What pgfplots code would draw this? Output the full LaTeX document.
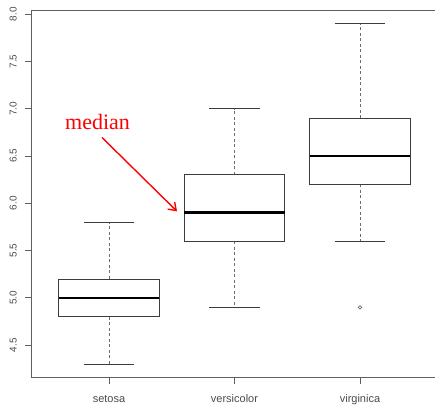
\documentclass[border=0pt]{standalone}
\usepackage{pgfplots}
\pgfplotsset{compat=1.18}
\usepgfplotslibrary{statistics}
\usetikzlibrary{arrows.meta}
\usepackage{fontspec}
\setmainfont{Liberation Sans}
\newfontfamily\serifrm{Liberation Serif}
\definecolor{axgray}{RGB}{95,95,95}
\definecolor{txtgray}{RGB}{75,75,75}
\definecolor{boxgray}{RGB}{60,60,60}
\definecolor{whgray}{RGB}{110,110,110}
\begin{document}
\begin{tikzpicture}
\begin{axis}[
  name=ax,
  scale only axis,
  width=406.6bp, height=367.7bp,
  xmin=0.38, xmax=3.62, ymin=4.156, ymax=8.044,
  axis line style={axgray, line width=0.9bp},
  xtick={1,2,3}, xticklabels={setosa,versicolor,virginica},
  ytick={4.5,5,5.5,6,6.5,7,7.5,8},
  yticklabels={4.5,5.0,5.5,6.0,6.5,7.0,7.5,8.0},
  tick align=outside, xtick pos=bottom, ytick pos=left,
  major tick length=6.5bp,
  tick style={axgray, line width=0.9bp},
  ticklabel style={text=txtgray},
  yticklabel style={xshift=-7.7bp, font=\fontsize{10bp}{12bp}\selectfont, rotate=90, anchor=south, inner sep=0pt},
  xticklabel style={font=\fontsize{11bp}{13bp}\selectfont, anchor=base, inner sep=0pt, yshift=-18bp},
  boxplot/draw direction=y,
  boxplot/draw/median/.code={%
    \draw[black, line width=2.6bp]
      (boxplot box cs:\pgfplotsboxplotvalue{median},0) --
      (boxplot box cs:\pgfplotsboxplotvalue{median},1);},
  boxplot/draw/lower whisker/.code={%
    \draw[whgray, dash pattern=on 3bp off 2.5bp]
      (boxplot box cs:\pgfplotsboxplotvalue{lower quartile},0.5) --
      (boxplot box cs:\pgfplotsboxplotvalue{lower whisker},0.5);
    \draw[boxgray]
      (boxplot whisker cs:\pgfplotsboxplotvalue{lower whisker},0) --
      (boxplot whisker cs:\pgfplotsboxplotvalue{lower whisker},1);},
  boxplot/draw/upper whisker/.code={%
    \draw[whgray, dash pattern=on 3bp off 2.5bp]
      (boxplot box cs:\pgfplotsboxplotvalue{upper quartile},0.5) --
      (boxplot box cs:\pgfplotsboxplotvalue{upper whisker},0.5);
    \draw[boxgray]
      (boxplot whisker cs:\pgfplotsboxplotvalue{upper whisker},0) --
      (boxplot whisker cs:\pgfplotsboxplotvalue{upper whisker},1);},
]
\addplot[boxgray, line width=0.9bp, mark=o, mark size=1.7bp,
  boxplot prepared={draw position=1, lower whisker=4.3, lower quartile=4.8,
    median=5.0, upper quartile=5.2, upper whisker=5.8,
    box extend=0.8, whisker extend=0.4}] coordinates {};
\addplot[boxgray, line width=0.9bp, mark=o, mark size=1.7bp,
  boxplot prepared={draw position=2, lower whisker=4.9, lower quartile=5.6,
    median=5.9, upper quartile=6.3, upper whisker=7.0,
    box extend=0.8, whisker extend=0.4}] coordinates {};
\addplot[boxgray, line width=0.9bp, mark=o, mark size=1.8bp,
  mark options={line width=0.7bp, draw=whgray},
  boxplot prepared={draw position=3, lower whisker=5.6, lower quartile=6.2,
    median=6.5, upper quartile=6.9, upper whisker=7.9,
    box extend=0.8, whisker extend=0.4}] table[row sep=\\, y index=0] {4.9\\};
\node[anchor=base west, text=red, inner sep=0pt,
  font=\serifrm\fontsize{22bp}{24bp}\selectfont] at (axis cs:0.649,6.780) {median};
\draw[red, line width=1.4bp, -{Straight Barb[length=7bp,width=10bp]}]
  (axis cs:0.944,6.696) -- (axis cs:1.542,5.915);
\end{axis}
\path (ax.south west) ++(-31.2bp,-27.3bp) coordinate (bbA);
\path (ax.north east) ++(-2.8bp,10bp) coordinate (bbB);
\pgfresetboundingbox
\path (bbA) rectangle (bbB);
\end{tikzpicture}
\end{document}
